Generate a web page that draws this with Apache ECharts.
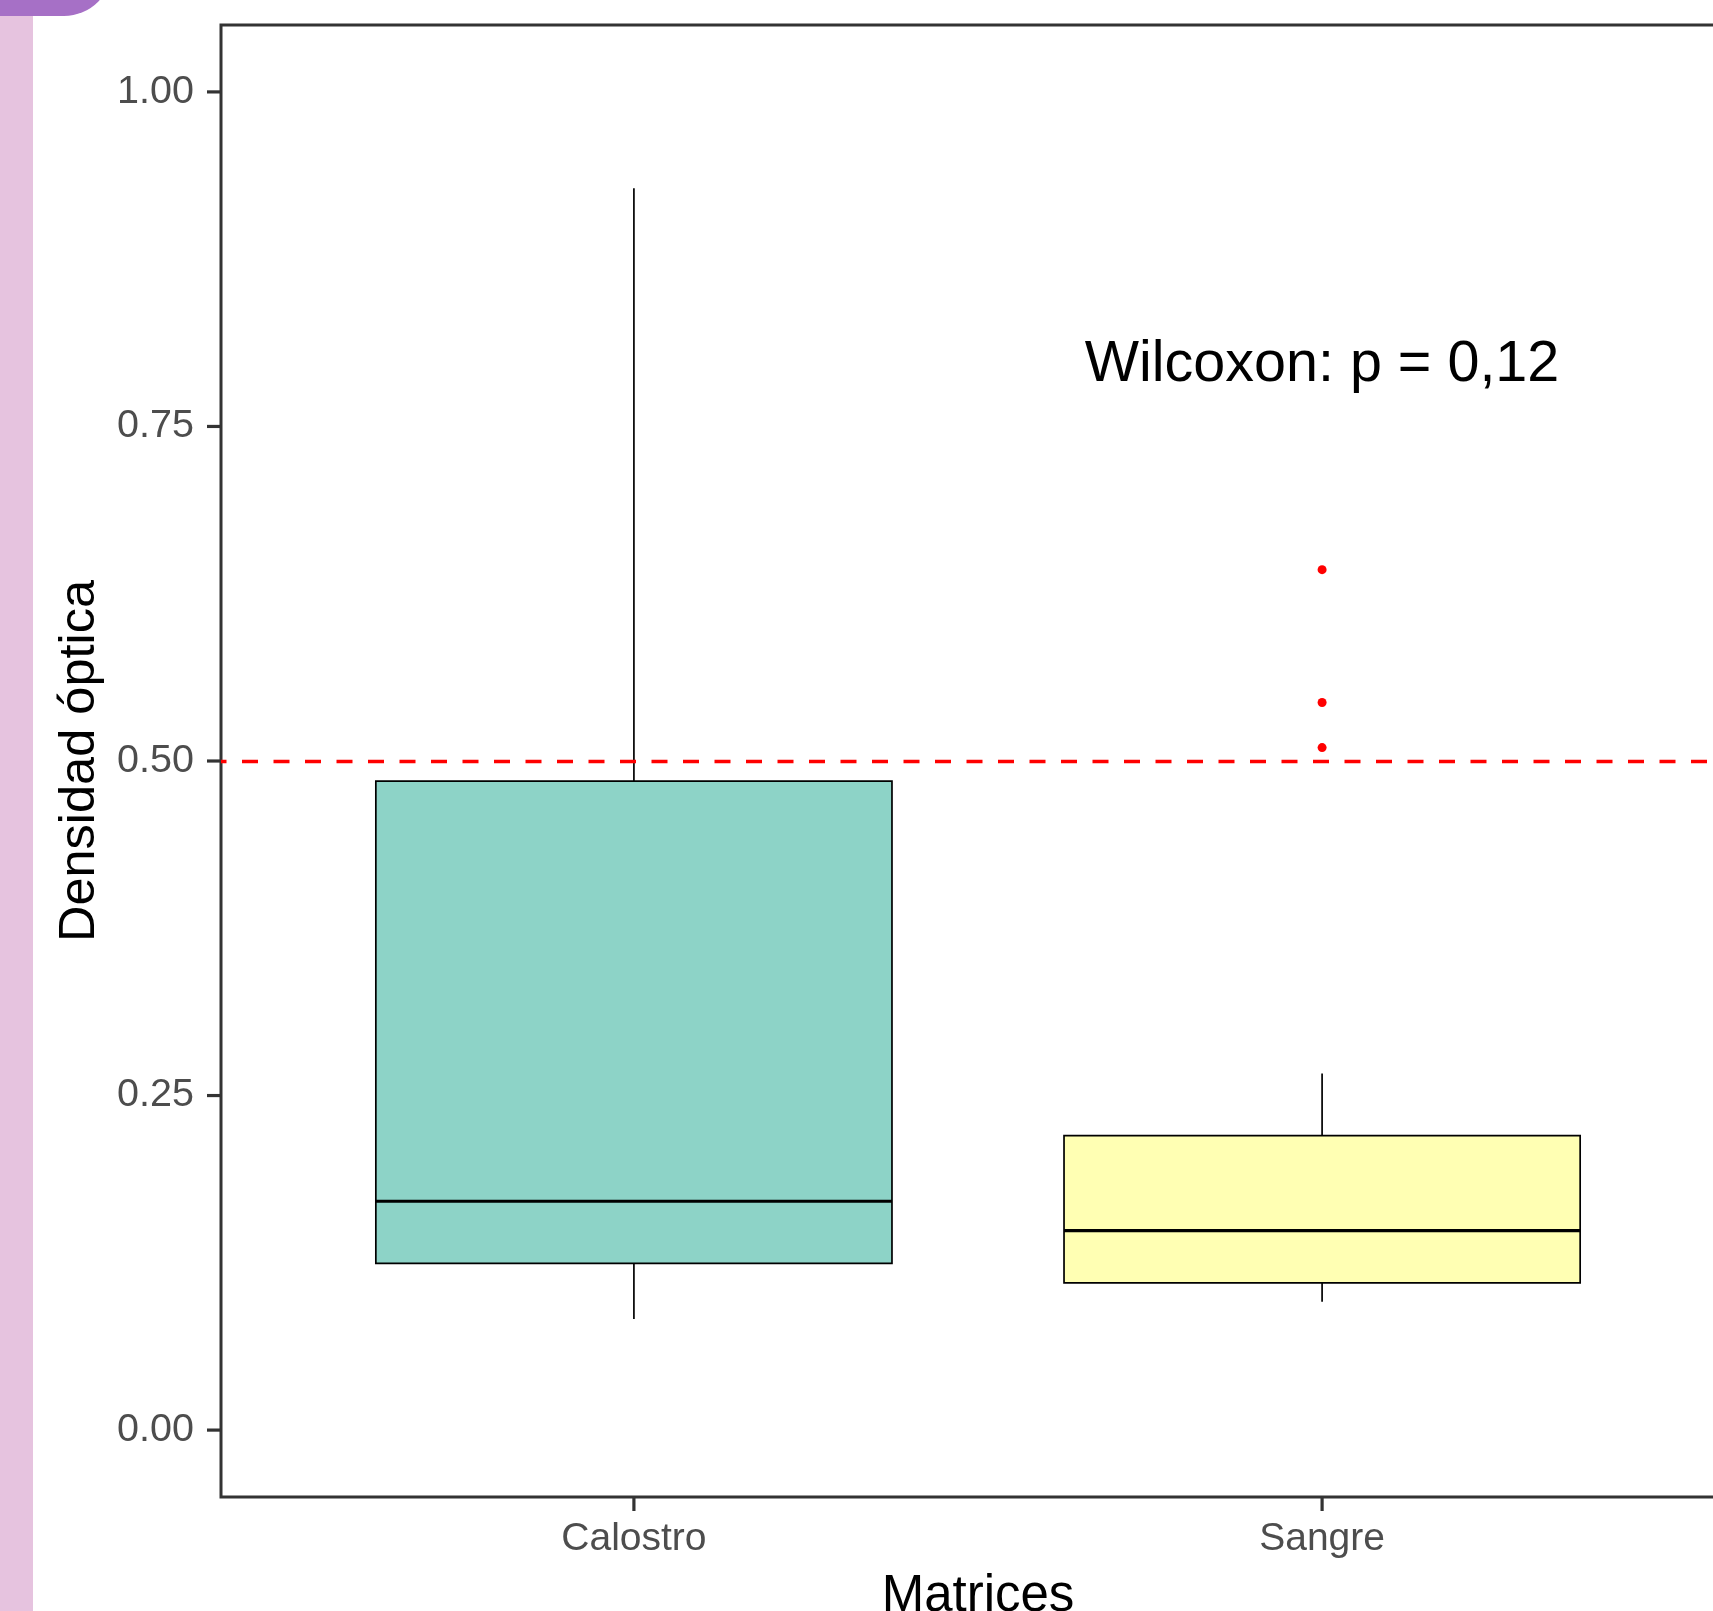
<!DOCTYPE html>
<html>
<head>
<meta charset="utf-8">
<script src="https://cdn.jsdelivr.net/npm/echarts@6/dist/echarts.min.js"></script>
<style>
  html, body { margin: 0; padding: 0; background: #ffffff; }
  #chart { width: 1713px; height: 1611px; }
</style>
</head>
<body>
<div id="chart"></div>
<script>
// ---- data ----
const categories = ['Calostro', 'Sangre'];
const whiskerLow = [0.083, 0.096];
const q1 = [0.1246, 0.110];
const median = [0.171, 0.149];
const q3 = [0.485, 0.220];
const whiskerHigh = [0.928, 0.2665];
const outlierGroup = [1, 1, 1];
const outlierValue = [0.643, 0.5437, 0.510];
const yTicks = [0, 0.25, 0.5, 0.75, 1];
const xTicks = [0, 1];
const threshold = 0.5;
const annotationText = 'Wilcoxon: p = 0,12';
const xTitle = 'Matrices';
const yTitle = 'Densidad óptica';

const xMin = -0.6, xMax = 1.6;
const yMin = -0.05, yMax = 1.05;

const boxFill = ['#8dd3c7', '#ffffb3'];
const FONT = "'Liberation Sans', Arial, sans-serif";
const TICK_LEN = 14;

const boxData = categories.map((c, i) => [i, whiskerLow[i], q1[i], median[i], q3[i], whiskerHigh[i]]);
const outlierData = outlierGroup.map((g, i) => [g, outlierValue[i]]);
const yTickData = yTicks.map(v => [xMin, v]);
const xTickData = xTicks.map(v => [v, yMin]);

const chart = echarts.init(document.getElementById('chart'), null, { renderer: 'canvas' });

const tickStyle = { stroke: '#333333', lineWidth: 3.2 };

const option = {
  backgroundColor: '#ffffff',
  animation: false,
  grid: {
    left: 221, top: 25, width: 1514, height: 1472,
    outerBoundsMode: 'none', containLabel: false,
    show: true, borderColor: '#333333', borderWidth: 3, backgroundColor: 'transparent'
  },
  xAxis: {
    type: 'value', min: xMin, max: xMax,
    name: xTitle, nameLocation: 'middle', nameGap: 74,
    nameTextStyle: { fontSize: 51, color: '#000000', fontFamily: FONT },
    axisLine: { show: false, onZero: false },
    splitLine: { show: false },
    axisTick: { show: false },
    axisLabel: {
      customValues: xTicks, fontSize: 39, color: '#4d4d4d', fontFamily: FONT, margin: 23,
      formatter: v => categories[Math.round(v)]
    }
  },
  yAxis: {
    type: 'value', min: yMin, max: yMax,
    name: yTitle, nameLocation: 'middle', nameGap: 115, nameRotate: 90,
    nameTextStyle: { fontSize: 50.5, color: '#000000', fontFamily: FONT },
    axisLine: { show: false, onZero: false },
    splitLine: { show: false },
    axisTick: { show: false },
    axisLabel: {
      customValues: yTicks, fontSize: 39.5, color: '#4d4d4d', fontFamily: FONT, margin: 27,
      formatter: v => v.toFixed(2)
    }
  },
  series: [
    {
      type: 'custom',
      data: boxData,
      encode: { x: 0, y: [1, 2, 3, 4, 5] },
      clip: false,
      renderItem: function (params, api) {
        const x = api.value(0);
        const lo = api.value(1), a = api.value(2), m = api.value(3), b = api.value(4), hi = api.value(5);
        const half = 0.375;
        const pTop = api.coord([x, hi]);
        const pQ3 = api.coord([x, b]);
        const pQ1 = api.coord([x, a]);
        const pLo = api.coord([x, lo]);
        const tl = api.coord([x - half, b]);
        const br = api.coord([x + half, a]);
        const ml = api.coord([x - half, m]);
        const mr = api.coord([x + half, m]);
        const stroke = { stroke: '#000000', lineWidth: 1.7 };
        return {
          type: 'group',
          children: [
            { type: 'line', shape: { x1: pTop[0], y1: pTop[1], x2: pQ3[0], y2: pQ3[1] }, style: stroke },
            { type: 'line', shape: { x1: pQ1[0], y1: pQ1[1], x2: pLo[0], y2: pLo[1] }, style: stroke },
            { type: 'rect', shape: { x: tl[0], y: tl[1], width: br[0] - tl[0], height: br[1] - tl[1] },
              style: { fill: boxFill[params.dataIndex], stroke: '#000000', lineWidth: 1.7 } },
            { type: 'line', shape: { x1: ml[0], y1: ml[1], x2: mr[0], y2: mr[1] },
              style: { stroke: '#000000', lineWidth: 3.2 } }
          ]
        };
      }
    },
    {
      // y-axis tick marks (outside the panel, left)
      type: 'custom',
      data: yTickData,
      clip: false,
      silent: true,
      renderItem: function (params, api) {
        const p = api.coord([api.value(0), api.value(1)]);
        return { type: 'line', shape: { x1: p[0] - TICK_LEN, y1: p[1], x2: p[0], y2: p[1] }, style: tickStyle };
      }
    },
    {
      // x-axis tick marks (outside the panel, bottom)
      type: 'custom',
      data: xTickData,
      clip: false,
      silent: true,
      renderItem: function (params, api) {
        const p = api.coord([api.value(0), api.value(1)]);
        return { type: 'line', shape: { x1: p[0], y1: p[1], x2: p[0], y2: p[1] + TICK_LEN }, style: tickStyle };
      }
    },
    {
      type: 'scatter',
      data: outlierData,
      symbol: 'circle',
      symbolSize: 9,
      itemStyle: { color: '#ff0000', opacity: 1 },
      z: 3,
      markLine: {
        silent: true,
        symbol: ['none', 'none'],
        label: { show: false },
        lineStyle: { color: '#ff0000', width: 3.3, opacity: 1, type: [16, 15.5], dashOffset: 10.5 },
        data: [{ yAxis: threshold }]
      }
    }
  ],
  graphic: [
    { type: 'rect', shape: { x: 0, y: 0, width: 33, height: 1611 }, style: { fill: '#e6c3df' }, z: 100 },
    { type: 'rect', shape: { x: -100, y: -100, width: 212, height: 116, r: 48 }, style: { fill: '#a670c6' }, z: 101 },
    {
      type: 'text', z: 100,
      style: {
        text: annotationText, x: 1322, y: 365, align: 'center', verticalAlign: 'middle',
        fontSize: 57.5, fill: '#000000', fontFamily: FONT
      }
    }
  ]
};
chart.setOption(option);
</script>
</body>
</html>
